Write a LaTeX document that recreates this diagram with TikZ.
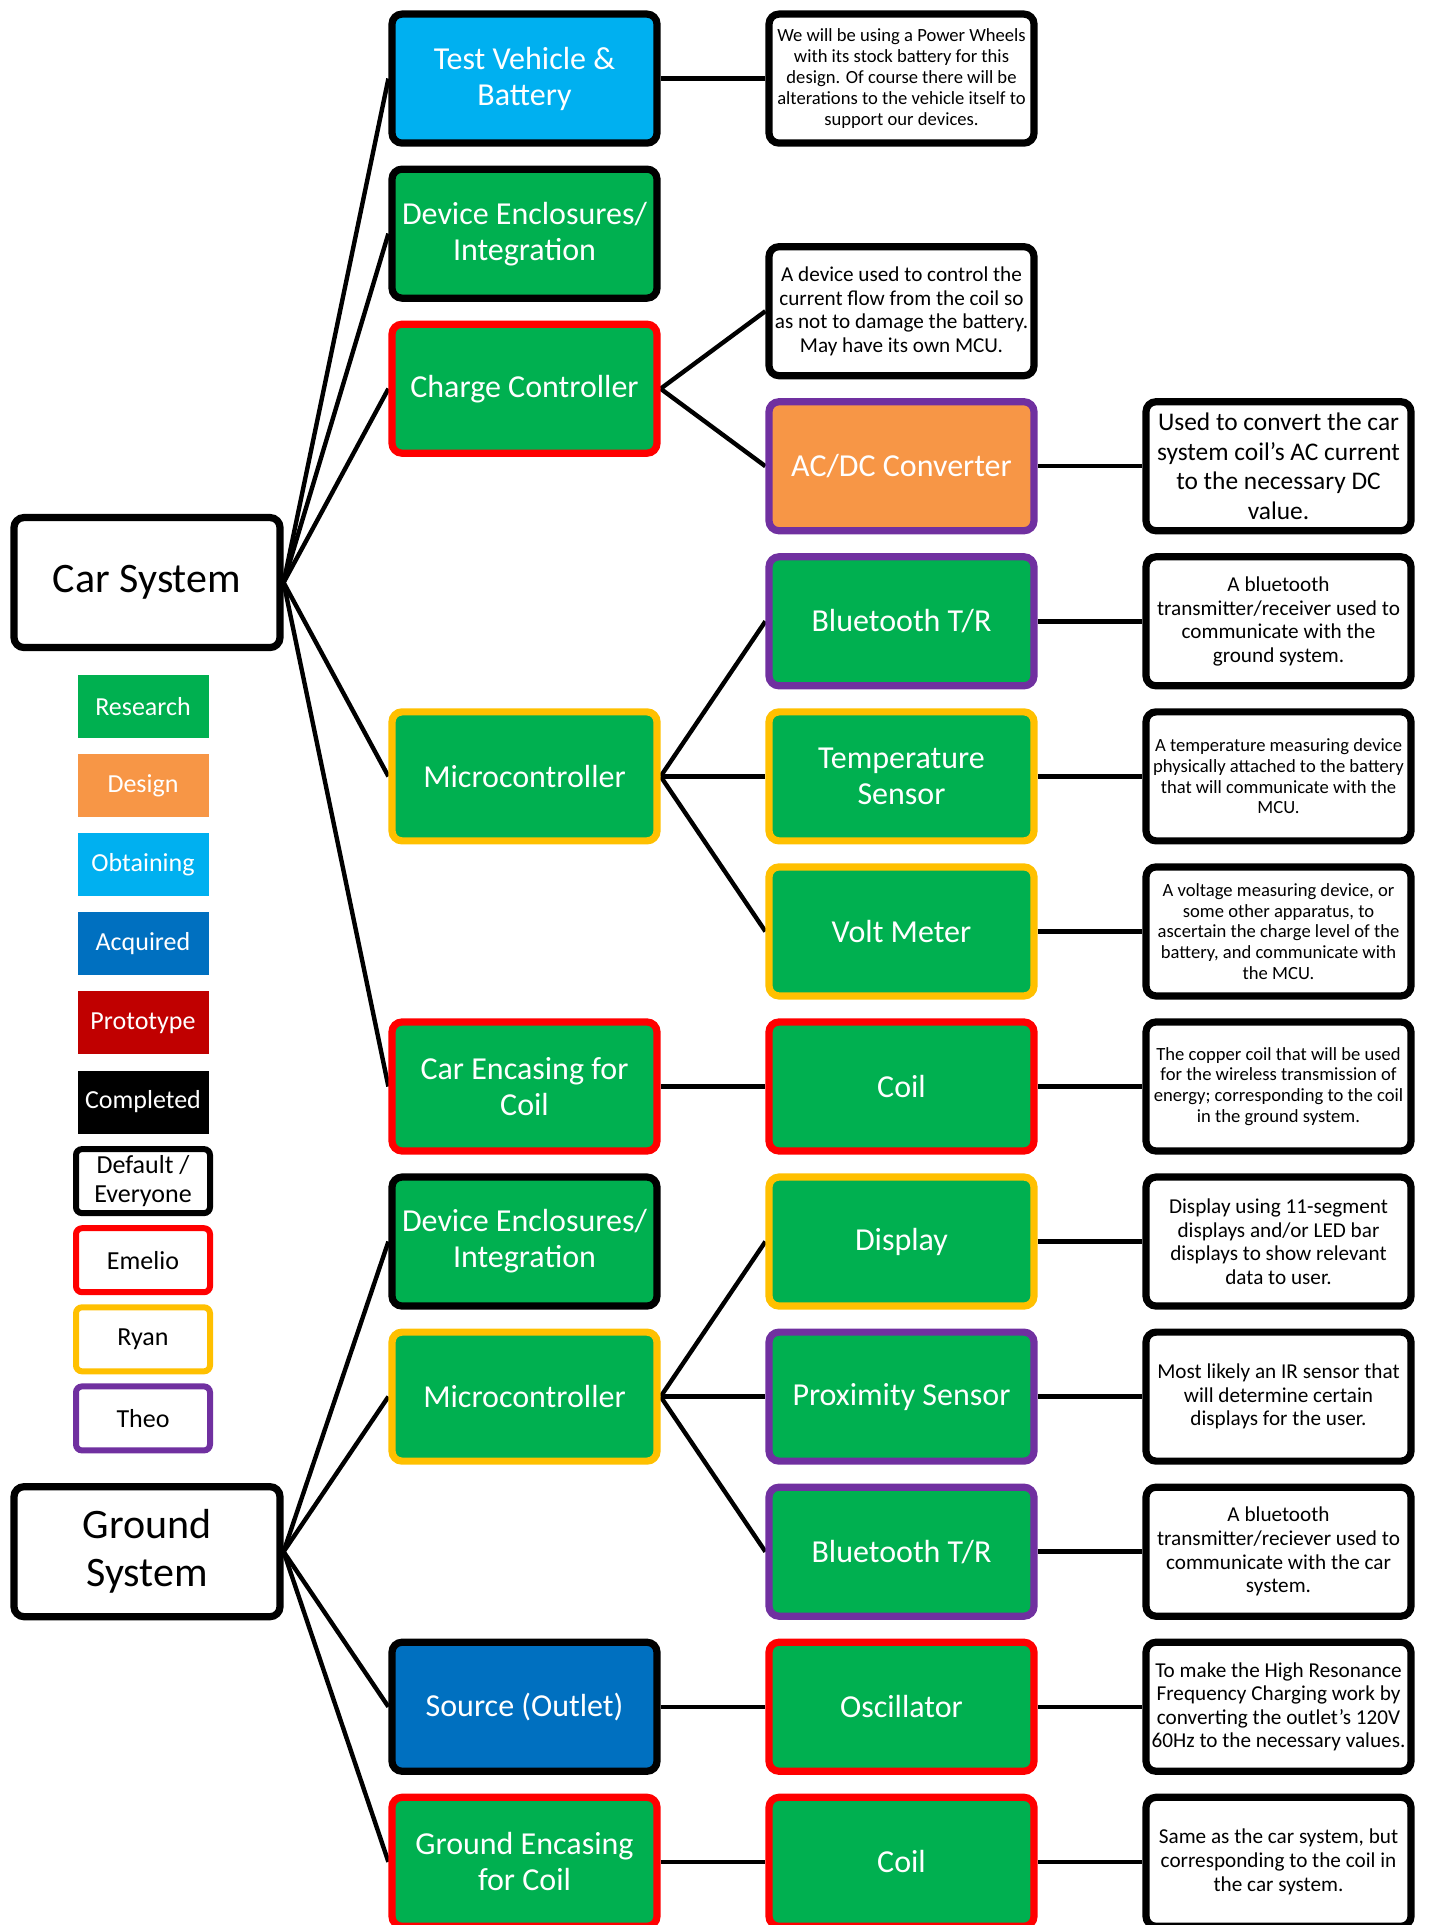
\documentclass[tikz,border=0pt]{standalone}
\usepackage{fontspec}
\setmainfont{Carlito}
\usetikzlibrary{backgrounds}
\definecolor{grn}{HTML}{00B050}
\definecolor{org}{HTML}{F79646}
\definecolor{lblu}{HTML}{00B0F0}
\definecolor{dblu}{HTML}{0070C0}
\definecolor{dred}{HTML}{C00000}
\definecolor{emel}{HTML}{FF0000}
\definecolor{ryan}{HTML}{FFC000}
\definecolor{theo}{HTML}{7030A0}
\tikzset{
  box/.style={draw, line width=3.6pt, rounded corners=5pt, minimum width=132.5pt, minimum height=64.5pt, align=center, inner sep=1pt},
  part/.style={box, fill=grn, text=white, font=\fontsize{16}{18}\selectfont},
  note/.style={box, fill=white},
  nsmall/.style={note, font=\fontsize{9.3}{10.4}\selectfont},
  nmid/.style={note, font=\fontsize{10.6}{11.8}\selectfont},
  nbig/.style={note, font=\fontsize{12.7}{14.7}\selectfont},
  sys/.style={box, fill=white, minimum width=133pt, minimum height=65pt, font=\fontsize{21}{24}\selectfont},
  key/.style={minimum width=65.5pt, minimum height=31.5pt, text=white, inner sep=0pt, font=\fontsize{13}{14.7}\selectfont},
  who/.style={draw, line width=3pt, rounded corners=3pt, fill=white, minimum width=67pt, minimum height=32pt, align=center, inner sep=0pt, font=\fontsize{13}{14.7}\selectfont},
  link/.style={line width=2.2pt},
}
\begin{document}
\begin{tikzpicture}[x=0.5pt,y=-0.5pt]
  \def\yo{78.6}\def\ru{155.06}
  \def\xa{147}\def\xb{524.5}\def\xc{901.5}\def\xd{1278.5}
  \useasboundingbox (0,0) rectangle (1429,1925);
  \clip (0,0) rectangle (1429,1925);
  % systems
  \node[sys] (car) at (\xa,{\yo+3.25*\ru}) {Car System};
  \node[sys] (gnd) at (\xa,{\yo+9.5*\ru}) {Ground\\System};
  % legend
  \foreach \t/\c [count=\i from 0] in {Research/grn,Design/org,Obtaining/lblu,Acquired/dblu,Prototype/dred,Completed/black}
    \node[key, fill=\c] (k\i) at (143,{706.5+79.1*\i}) {\t};
  \foreach \t/\c [count=\i from 6] in {{Default /\\Everyone}/black,Emelio/emel,Ryan/ryan,Theo/theo}
    \node[who, draw=\c] (k\i) at (143,{706.5+79.1*\i}) {\t};
  % second column
  \node[part, fill=lblu] (tv) at (\xb,\yo) {Test Vehicle \&\\Battery};
  \node[part] (enc1) at (\xb,{\yo+\ru}) {Device Enclosures/\\Integration};
  \node[part, draw=emel] (cc) at (\xb,{\yo+2*\ru}) {Charge Controller};
  \node[part, draw=ryan] (mcu1) at (\xb,{\yo+4.5*\ru}) {Microcontroller};
  \node[part, draw=emel] (ce) at (\xb,{\yo+6.5*\ru}) {Car Encasing for\\Coil};
  \node[part] (enc2) at (\xb,{\yo+7.5*\ru}) {Device Enclosures/\\Integration};
  \node[part, draw=ryan] (mcu2) at (\xb,{\yo+8.5*\ru}) {Microcontroller};
  \node[part, fill=dblu] (src) at (\xb,{\yo+10.5*\ru}) {Source (Outlet)};
  \node[part, draw=emel] (ge) at (\xb,{\yo+11.5*\ru}) {Ground Encasing\\for Coil};
  % third column
  \node[nsmall] (n1) at (\xc,\yo) {We will be using a Power Wheels\\with its stock battery for this\\design. Of course there will be\\alterations to the vehicle itself to\\support our devices.};
  \node[nmid] (n2) at (\xc,{\yo+1.5*\ru}) {A device used to control the\\current flow from the coil so\\as not to damage the battery.\\May have its own MCU.};
  \node[part, fill=org, draw=theo] (acdc) at (\xc,{\yo+2.5*\ru}) {AC/DC Converter};
  \node[part, draw=theo] (bt1) at (\xc,{\yo+3.5*\ru}) {Bluetooth T/R};
  \node[part, draw=ryan] (tmp) at (\xc,{\yo+4.5*\ru}) {Temperature\\Sensor};
  \node[part, draw=ryan] (vm) at (\xc,{\yo+5.5*\ru}) {Volt Meter};
  \node[part, draw=emel] (coil1) at (\xc,{\yo+6.5*\ru}) {Coil};
  \node[part, draw=ryan] (dsp) at (\xc,{\yo+7.5*\ru}) {Display};
  \node[part, draw=theo] (prx) at (\xc,{\yo+8.5*\ru}) {Proximity Sensor};
  \node[part, draw=theo] (bt2) at (\xc,{\yo+9.5*\ru}) {Bluetooth T/R};
  \node[part, draw=emel] (osc) at (\xc,{\yo+10.5*\ru}) {Oscillator};
  \node[part, draw=emel] (coil2) at (\xc,{\yo+11.5*\ru}) {Coil};
  % fourth column
  \node[nbig] (n3) at (\xd,{\yo+2.5*\ru}) {Used to convert the car\\system coil's AC current\\to the necessary DC\\value.};
  \node[nmid] (n4) at (\xd,{\yo+3.5*\ru}) {A bluetooth\\transmitter/receiver used to\\communicate with the\\ground system.};
  \node[nsmall] (n5) at (\xd,{\yo+4.5*\ru}) {A temperature measuring device\\physically attached to the battery\\that will communicate with the\\MCU.};
  \node[nsmall] (n6) at (\xd,{\yo+5.5*\ru}) {A voltage measuring device, or\\some other apparatus, to\\ascertain the charge level of the\\battery, and communicate with\\the MCU.};
  \node[nsmall] (n7) at (\xd,{\yo+6.5*\ru}) {The copper coil that will be used\\for the wireless transmission of\\energy; corresponding to the coil\\in the ground system.};
  \node[nmid] (n8) at (\xd,{\yo+7.5*\ru}) {Display using 11-segment\\displays and/or LED bar\\displays to show relevant\\data to user.};
  \node[nmid] (n9) at (\xd,{\yo+8.5*\ru}) {Most likely an IR sensor that\\will determine certain\\displays for the user.};
  \node[nmid] (n10) at (\xd,{\yo+9.5*\ru}) {A bluetooth\\transmitter/reciever used to\\communicate with the car\\system.};
  \node[nmid] (n11) at (\xd,{\yo+10.5*\ru}) {To make the High Resonance\\Frequency Charging work by\\converting the outlet's 120V\\60Hz to the necessary values.};
  \node[nmid] (n12) at (\xd,{\yo+11.5*\ru}) {Same as the car system, but\\corresponding to the coil in\\the car system.};
  % connectors
  \begin{scope}[on background layer]
    \foreach \b in {tv,enc1,cc,mcu1,ce} \draw[link] (car.east) -- (\b.west);
    \foreach \b in {enc2,mcu2,src,ge} \draw[link] (gnd.east) -- (\b.west);
    \foreach \a/\b in {tv/n1,cc/n2,cc/acdc,acdc/n3,mcu1/bt1,mcu1/tmp,mcu1/vm,bt1/n4,tmp/n5,vm/n6,ce/coil1,coil1/n7,mcu2/dsp,mcu2/prx,mcu2/bt2,dsp/n8,prx/n9,bt2/n10,src/osc,osc/n11,ge/coil2,coil2/n12}
      \draw[link] (\a.east) -- (\b.west);
  \end{scope}
\end{tikzpicture}
\end{document}
